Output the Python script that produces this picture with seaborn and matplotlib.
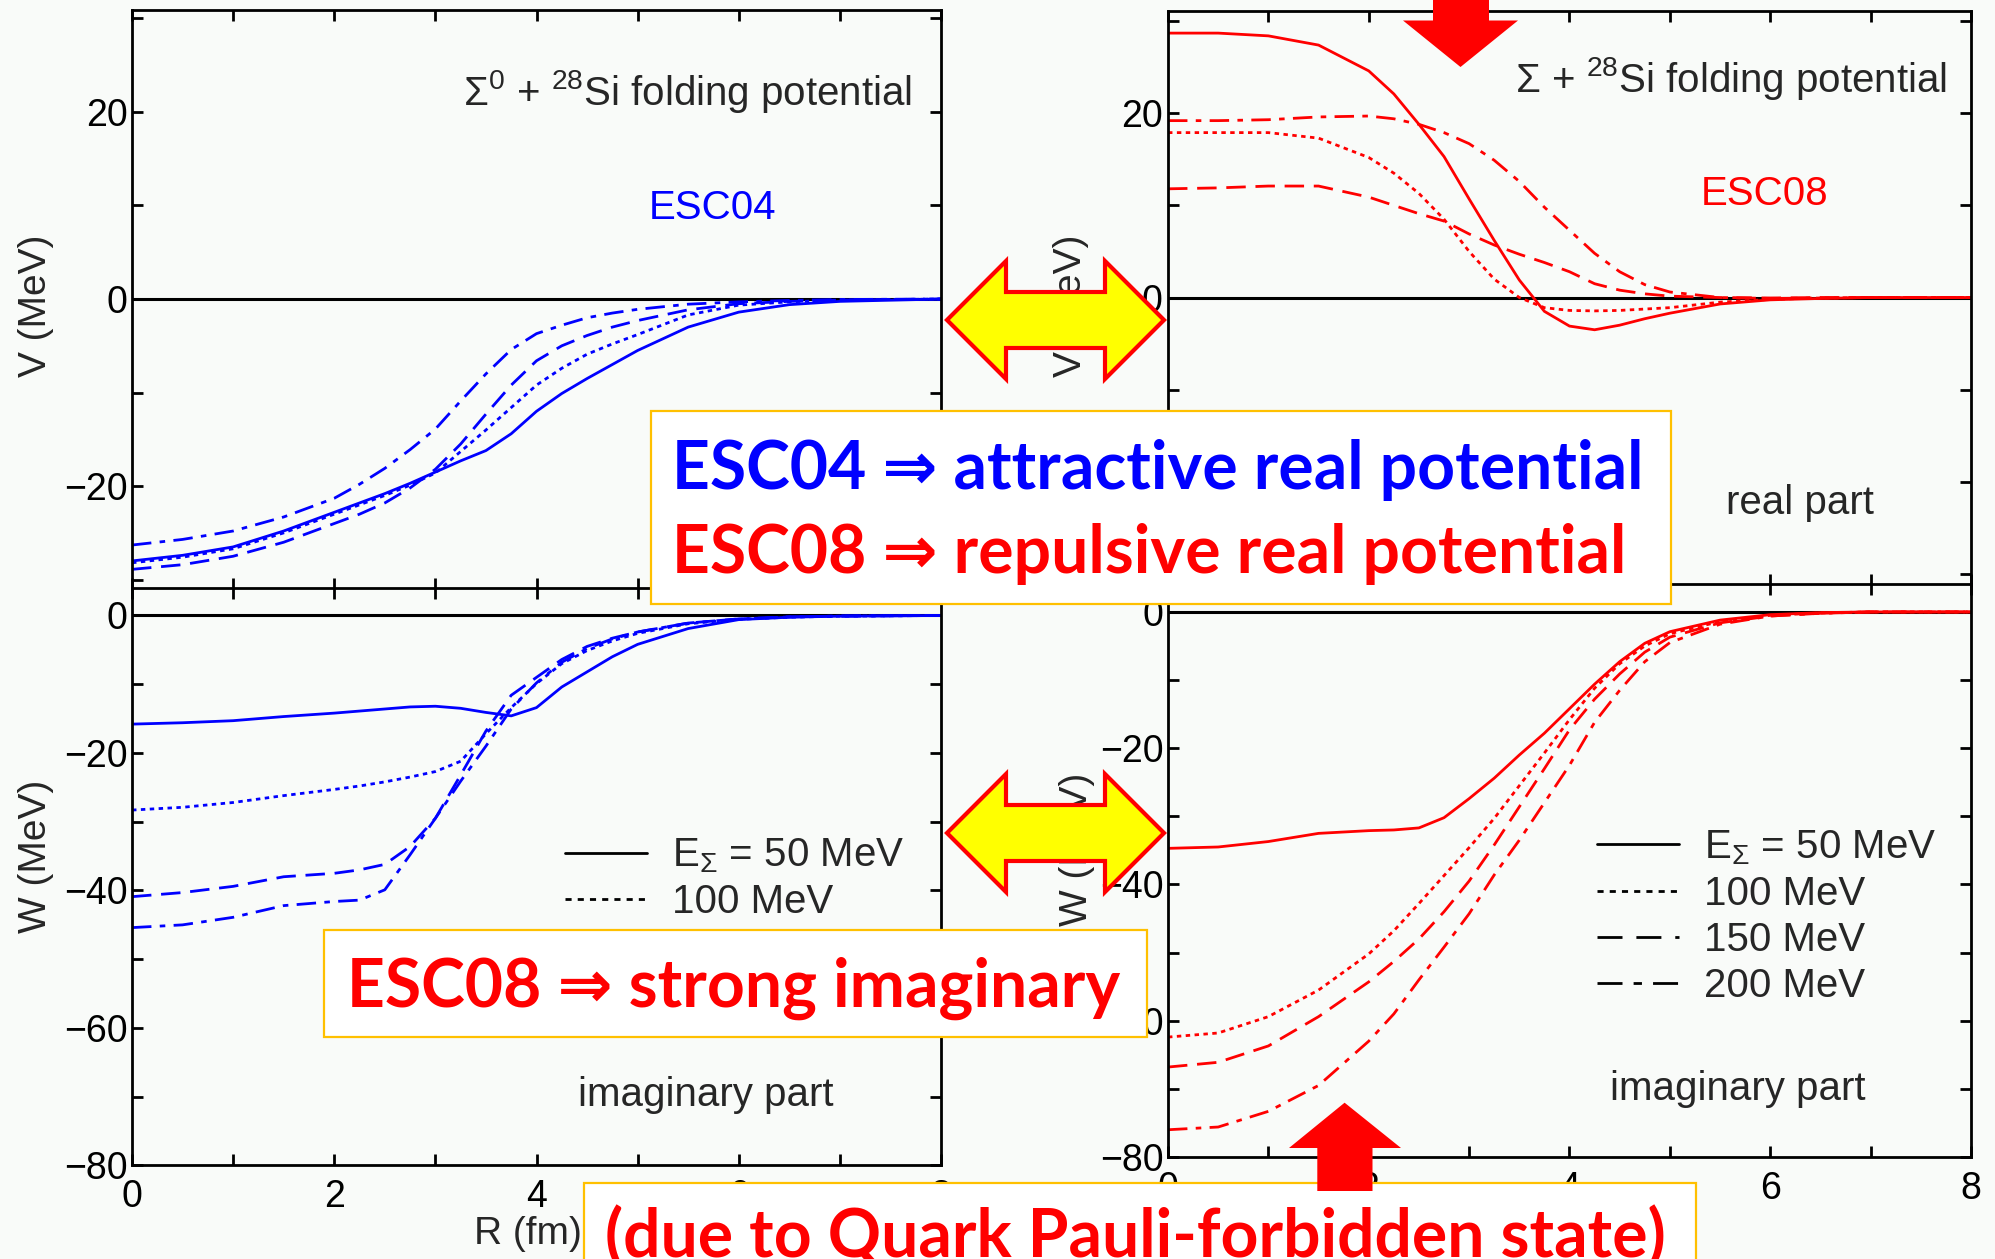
import numpy as np
import pandas as pd
import matplotlib
matplotlib.use("Agg")
import matplotlib.pyplot as plt
from matplotlib.patches import Polygon, Rectangle
from matplotlib.lines import Line2D
from matplotlib.ticker import MultipleLocator
import seaborn as sns

# ---------------- data ----------------
R = [0, 0.5, 1, 1.5, 2, 2.25, 2.5, 2.75, 3, 3.25, 3.5, 3.75, 4, 4.25, 4.5, 4.75, 5, 5.5, 6, 6.5, 7, 8]
energies = ["50", "100", "150", "200"]
legend_labels = [r"E$_{\Sigma}$ = 50 MeV", "100 MeV", "150 MeV", "200 MeV"]

# ESC04 real part V (MeV)
esc04_V_50 = [-28.0, -27.4, -26.5, -24.8, -22.8, -21.8, -20.8, -19.7, -18.5, -17.3, -16.2, -14.4, -12.0, -10.1, -8.5, -7.0, -5.5, -3.0, -1.4, -0.6, -0.25, 0.0]
esc04_V_100 = [-28.2, -27.6, -26.7, -25.0, -23.0, -22.0, -21.0, -19.9, -18.6, -16.3, -14.0, -11.6, -9.2, -7.4, -5.9, -4.8, -3.8, -1.7, -0.65, -0.3, -0.1, 0.0]
esc04_V_150 = [-28.9, -28.4, -27.5, -26.0, -24.0, -23.0, -21.8, -20.2, -18.2, -15.5, -12.3, -9.2, -6.6, -5.0, -3.9, -3.0, -2.3, -1.15, -0.5, -0.25, -0.1, 0.0]
esc04_V_200 = [-26.3, -25.7, -24.8, -23.3, -21.3, -19.8, -18.1, -16.1, -13.9, -10.9, -8.0, -5.4, -3.7, -2.8, -2.0, -1.5, -1.1, -0.55, -0.3, -0.15, -0.05, 0.0]

# ESC04 imaginary part W (MeV)
esc04_W_50 = [-15.8, -15.6, -15.3, -14.7, -14.2, -13.9, -13.6, -13.3, -13.2, -13.5, -14.1, -14.6, -13.4, -10.4, -8.2, -6.0, -4.2, -1.9, -0.6, -0.25, -0.1, 0.0]
esc04_W_100 = [-28.3, -27.9, -27.2, -26.2, -25.3, -24.8, -24.2, -23.5, -22.7, -21.2, -17.2, -13.4, -9.9, -7.0, -5.1, -3.7, -2.6, -1.2, -0.55, -0.25, -0.1, 0.0]
esc04_W_150 = [-40.9, -40.3, -39.4, -38.0, -37.5, -37.0, -36.2, -33.6, -29.5, -23.2, -16.8, -11.6, -9.0, -6.4, -4.5, -3.3, -2.4, -1.1, -0.5, -0.2, -0.08, 0.0]
esc04_W_200 = [-45.4, -45.0, -43.9, -42.2, -41.6, -41.4, -39.9, -34.8, -29.5, -24.1, -19.0, -13.6, -9.8, -6.8, -4.8, -3.4, -2.4, -1.1, -0.5, -0.2, -0.08, 0.0]

# ESC08 real part V (MeV)
esc08_V_50 = [28.7, 28.7, 28.4, 27.4, 24.6, 22.1, 18.8, 15.3, 10.7, 6.2, 1.9, -1.5, -3.1, -3.5, -3.0, -2.3, -1.7, -0.7, -0.25, -0.1, 0.0, 0.0]
esc08_V_100 = [17.9, 17.9, 17.9, 17.3, 15.2, 13.5, 11.3, 8.5, 5.0, 2.0, 0.0, -1.1, -1.4, -1.45, -1.4, -1.25, -1.1, -0.5, -0.2, -0.05, 0.0, 0.0]
esc08_V_150 = [11.8, 11.9, 12.1, 12.1, 10.9, 10.0, 9.1, 8.3, 6.9, 5.7, 4.7, 3.8, 2.8, 1.5, 0.8, 0.4, 0.15, 0.0, -0.05, 0.0, 0.0, 0.0]
esc08_V_200 = [19.2, 19.2, 19.3, 19.6, 19.7, 19.4, 18.8, 17.9, 16.7, 14.9, 12.6, 9.8, 7.3, 4.8, 2.8, 1.4, 0.6, 0.0, -0.1, -0.05, 0.0, 0.0]

# ESC08 imaginary part W (MeV)
esc08_W_50 = [-34.7, -34.5, -33.7, -32.5, -32.1, -32.0, -31.7, -30.2, -27.4, -24.4, -21.0, -17.8, -14.2, -10.6, -7.3, -4.6, -2.9, -1.2, -0.4, -0.1, 0.0, 0.0]
esc08_W_100 = [-62.4, -61.8, -59.4, -55.5, -50.2, -46.8, -42.8, -38.7, -34.6, -30.3, -25.5, -20.7, -15.8, -11.2, -7.6, -5.0, -3.2, -1.4, -0.5, -0.15, 0.0, 0.0]
esc08_W_150 = [-66.8, -66.1, -63.7, -59.4, -54.3, -51.3, -48.0, -44.0, -39.5, -34.2, -28.6, -23.0, -17.3, -12.8, -9.1, -5.9, -3.7, -1.6, -0.6, -0.2, 0.0, 0.0]
esc08_W_200 = [-76.0, -75.6, -73.3, -69.5, -63.0, -59.0, -54.0, -49.2, -44.3, -38.6, -33.5, -28.0, -22.5, -16.2, -11.5, -7.3, -4.5, -1.8, -0.6, -0.2, 0.0, 0.0]

# ---------------- style ----------------
BG = "#f9fbf9"
BLUE = "#0000ff"
RED = "#ff0000"
GOLD = "#ffc000"
YELLOW = "#ffff00"

sns.set_style("ticks")
plt.rcParams.update({
    "font.family": ["Liberation Sans", "DejaVu Sans"],
    "mathtext.fontset": "custom",
    "mathtext.rm": "Liberation Sans",
    "mathtext.it": "Liberation Sans:italic",
    "mathtext.bf": "Liberation Sans:bold",
    "axes.unicode_minus": True,
})

DASHES = {"50": "", "100": (1.6, 1.6), "150": (7, 3.5), "200": (7, 3, 2, 3)}
LEG_DASHES = {"50": "-", "100": (0, (2.2, 2.2)), "150": (0, (9, 5)), "200": (0, (9, 4, 3, 4))}

W, H = 1995, 1259
fig = plt.figure(figsize=(W / 100, H / 100), dpi=100, facecolor=BG)


def px(x, y):
    return (x / W, 1 - y / H)


def panel(rect, series, color, ylim, ylabel, ylabel_xy, show_xlabels, ypad):
    ax = fig.add_axes(rect)
    ax.set_facecolor(BG)
    df = pd.DataFrame({
        "R": R * len(series),
        "val": sum(series, []),
        "E": sum([[e] * len(R) for e in energies], []),
    })
    ax.axhline(0, color="black", lw=2.2, zorder=1)
    sns.lineplot(data=df, x="R", y="val", style="E", style_order=energies,
                 dashes=DASHES, color=color, linewidth=2.0, ax=ax,
                 legend=False, estimator=None, sort=False, zorder=2)
    ax.set_xlim(0, 8)
    ax.set_ylim(*ylim)
    ax.xaxis.set_major_locator(MultipleLocator(2))
    ax.xaxis.set_minor_locator(MultipleLocator(1))
    ax.yaxis.set_major_locator(MultipleLocator(20))
    ax.yaxis.set_minor_locator(MultipleLocator(10))
    ax.tick_params(which="both", direction="in", top=True, right=True,
                   length=8, width=2, colors="black")
    ax.tick_params(axis="y", labelsize=27, pad=ypad)
    ax.tick_params(axis="x", labelsize=27, pad=10, labelbottom=show_xlabels)
    for s in ax.spines.values():
        s.set_linewidth(2)
        s.set_color("black")
    ax.set_ylabel(ylabel, fontsize=28)
    ax.yaxis.set_label_coords(*ylabel_xy)
    if show_xlabels:
        ax.set_xlabel("R (fm)", fontsize=28)
        ax.xaxis.set_label_coords(0.489, -0.088)
    else:
        ax.set_xlabel("")
    return ax


ax_tl = panel([0.06617, 0.53217, 0.40551, 0.45988],
              [esc04_V_50, esc04_V_100, esc04_V_150, esc04_V_200], BLUE,
              (-31.0, 30.9), "V (MeV)", (-0.0964, 0.489), False, 3)
ax_bl = panel([0.06617, 0.07427, 0.40551, 0.45870],
              [esc04_W_50, esc04_W_100, esc04_W_150, esc04_W_200], BLUE,
              (-80, 4.0), "W (MeV)", (-0.0964, 0.536), True, 3)
ax_tr = panel([0.58546, 0.53535, 0.40251, 0.45592],
              [esc08_V_50, esc08_V_100, esc08_V_150, esc08_V_200], RED,
              (-31.2, 31.1), "V (MeV)", (-0.098, 0.486), False, 4)
ax_br = panel([0.58546, 0.08102, 0.40251, 0.45512],
              [esc08_W_50, esc08_W_100, esc08_W_150, esc08_W_200], RED,
              (-80, 4.1), "W (MeV)", (-0.091, 0.5375), True, 3)

# panel texts
ax_tl.text(0.964, 0.836, r"$\Sigma^{0}$ + $^{28}$Si folding potential", transform=ax_tl.transAxes,
           ha="right", va="baseline", fontsize=29)
ax_tl.text(0.717, 0.6396, "ESC04", transform=ax_tl.transAxes, ha="center", va="baseline",
           fontsize=29, color=BLUE)
ax_tr.text(0.9697, 0.8594, r"$\Sigma$ + $^{28}$Si folding potential", transform=ax_tr.transAxes,
           ha="right", va="baseline", fontsize=29)
ax_tr.text(0.7435, 0.662, "ESC08", transform=ax_tr.transAxes, ha="center", va="baseline",
           fontsize=29, color=RED)
ax_tr.text(0.7865, 0.1237, "real part", transform=ax_tr.transAxes, ha="center", va="baseline",
           fontsize=29)
ax_bl.text(0.7095, 0.103, "imaginary part", transform=ax_bl.transAxes, ha="center", va="baseline",
           fontsize=29)
ax_br.text(0.7095, 0.100, "imaginary part", transform=ax_br.transAxes, ha="center", va="baseline",
           fontsize=29)

# legends
handles = [Line2D([], [], color="black", lw=2.0, linestyle=LEG_DASHES[e]) for e in energies]
for ax, anchor in [(ax_bl, (0.535, 0.5695)), (ax_br, (0.534, 0.574))]:
    ax.legend(handles, legend_labels, loc="upper left", bbox_to_anchor=anchor,
              frameon=False, fontsize=29, handlelength=2.03, handletextpad=0.62,
              labelspacing=0.20, borderaxespad=0, borderpad=0)

# ---------------- annotation overlays ----------------
def dbl_arrow(cy):
    pts = [(947, cy), (1006, cy - 59), (1006, cy - 28), (1105, cy - 28), (1105, cy - 59),
           (1164, cy), (1105, cy + 59), (1105, cy + 28), (1006, cy + 28), (1006, cy + 59)]
    fig.add_artist(Polygon([px(*p) for p in pts], closed=True, facecolor=YELLOW,
                           edgecolor=RED, lw=3, joinstyle="miter", zorder=10))


dbl_arrow(320)
dbl_arrow(833)

down = [(1433, -5), (1489, -5), (1489, 20.5), (1518, 20.5), (1460.5, 67), (1403, 20.5), (1433, 20.5)]
fig.add_artist(Polygon([px(*p) for p in down], closed=True, facecolor=RED, edgecolor="none", zorder=12))


def box(x0, y0, x1, y1):
    (fx0, fy1), (fx1, fy0) = px(x0, y0), px(x1, y1)
    fig.add_artist(Rectangle((fx0, fy0), fx1 - fx0, fy1 - fy0, facecolor="white",
                             edgecolor=GOLD, lw=1.6, zorder=11))


box(650.5, 411, 1671, 604)
box(324, 930, 1147, 1037)
box(584, 1183, 1696, 1275)

up = [(1344.6, 1102.7), (1401, 1148), (1372.5, 1148), (1372.5, 1191), (1317.3, 1191),
      (1317.3, 1148), (1289, 1148)]
fig.add_artist(Polygon([px(*p) for p in up], closed=True, facecolor=RED, edgecolor="none", zorder=12))

BOXFONT = ["Lato", "DejaVu Sans"]
for (x, y), s, c in [((672, 489), "ESC04 ⇒ attractive real potential", BLUE),
                     ((672, 573), "ESC08 ⇒ repulsive real potential", RED),
                     ((347, 1007), "ESC08 ⇒ strong imaginary", RED),
                     ((605, 1257), "(due to Quark Pauli-forbidden state)", RED)]:
    fx, fy = px(x, y)
    fig.text(fx, fy, s, color=c, fontsize=47.5, fontweight="bold", family=BOXFONT,
             ha="left", va="baseline", zorder=13)

fig.savefig("out.png", dpi=100, facecolor=BG)
